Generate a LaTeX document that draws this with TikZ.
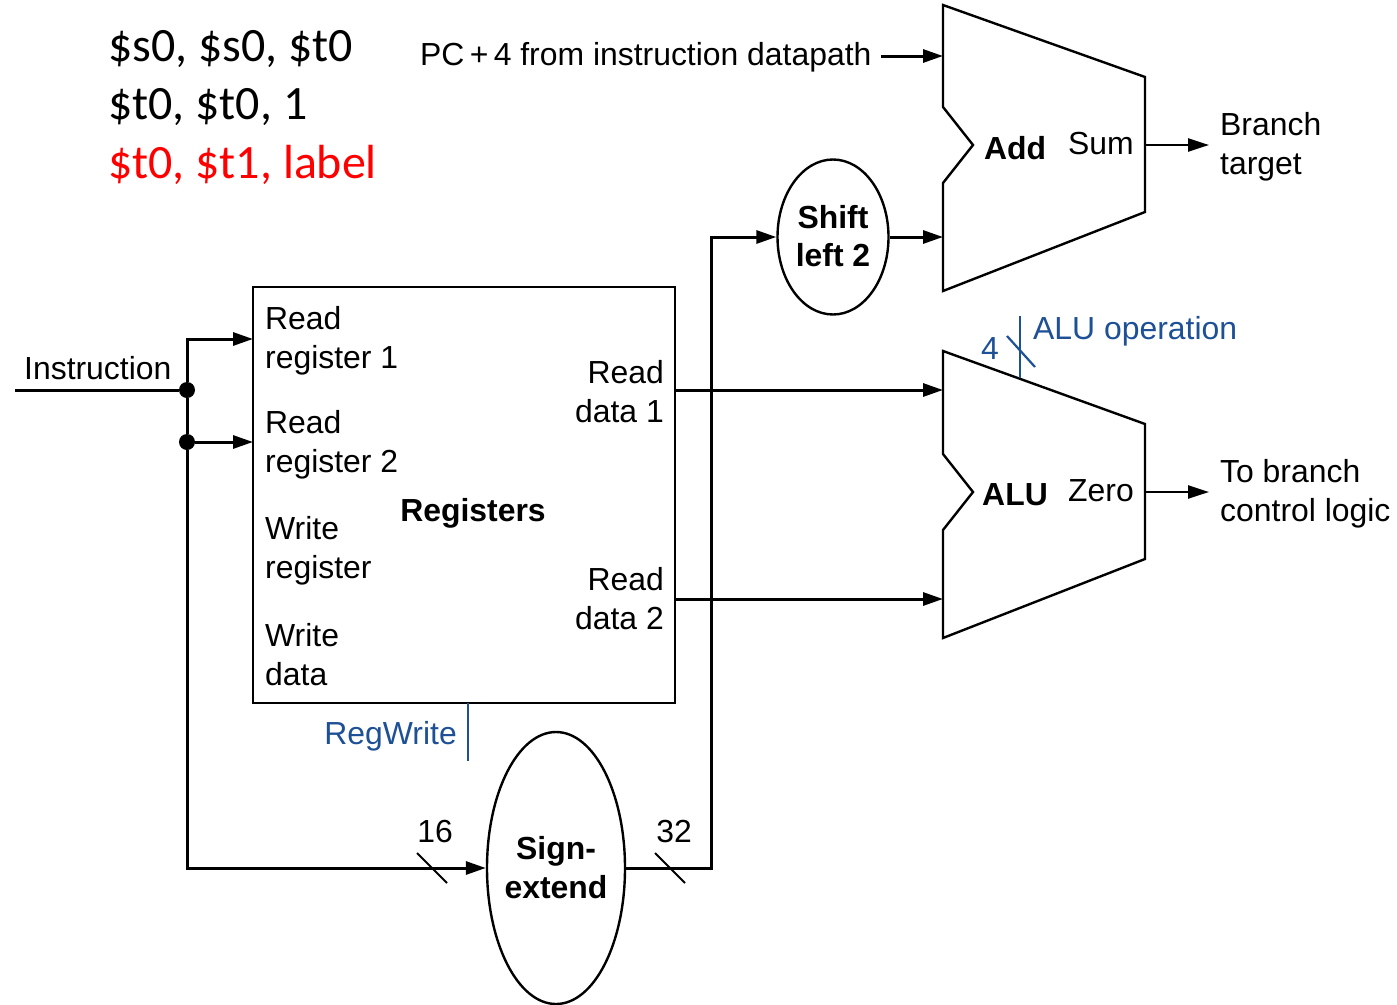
\documentclass[tikz,border=0pt]{standalone}
\usepackage{fontspec}
\setmainfont{Liberation Sans}
\newfontfamily\calib{Carlito}
\usetikzlibrary{arrows.meta,shapes.geometric}
\definecolor{ctl}{RGB}{30,80,150}
\tikzset{
 x=1pt,y=-1pt,
 wire/.style={line width=3pt,-{Triangle[length=20pt,width=13pt]}},
 wirethin/.style={line width=2.4pt,-{Triangle[length=21pt,width=13pt]}},
 plain/.style={line width=3pt},
 box/.style={draw,line width=2.4pt},
 oval/.style={draw,ellipse,line width=2.4pt,inner sep=0pt},
 lab/.style={font=\fontsize{31.9}{39}\selectfont,align=left,inner sep=0pt},
 labr/.style={font=\fontsize{31.9}{39}\selectfont,align=right,inner sep=0pt},
 blab/.style={font=\fontsize{31.9}{39}\selectfont\bfseries,align=center,inner sep=0pt},
 clab/.style={font=\fontsize{31.9}{39}\selectfont,text=ctl,inner sep=0pt},
 code/.style={font=\calib\fontsize{47.9}{58}\selectfont,inner sep=0pt,anchor=west},
 dot/.style={circle,fill,inner sep=0pt,minimum size=16pt},
}
\begin{document}
\begin{tikzpicture}
\useasboundingbox (0,0) rectangle (1397,1004);
% code
\node[code] (c1) at (108,49) {\$s0, \$s0, \$t0};
\node[code] (c2) at (108,107) {\$t0, \$t0, 1};
\node[code,text=red] (c3) at (108,165) {\$t0, \$t1, label};
% registers
\node[box,minimum width=422pt,minimum height=416pt,inner sep=0pt] (reg) at (464,495) {};
\node[blab] (regl) at (473,513) {Registers};
\node[lab,anchor=west] (r1) at (265,341) {Read\\register 1};
\node[lab,anchor=west] (r2) at (265,445) {Read\\register 2};
\node[lab,anchor=west] (w1) at (265,551) {Write\\register};
\node[lab,anchor=west] (w2) at (265,655) {Write\\data};
\node[labr,anchor=east] (d1) at (664,392) {Read\\data 1};
\node[labr,anchor=east] (d2) at (664,599) {Read\\data 2};
% Adder
\draw[box,line join=miter] (943,5) -- (1145,77) -- (1145,212) -- (943,291) -- (943,183) -- (973,145) -- (943,107) -- cycle;
\draw[box,line join=miter] (943,351) -- (1145,424) -- (1145,559) -- (943,638) -- (943,530) -- (973,492) -- (943,454) -- cycle;
\coordinate (addin1) at (943,56);
\coordinate (addin2) at (943,237);
\coordinate (addout) at (1145,145);
\coordinate (aluin1) at (943,390);
\coordinate (aluin2) at (943,599);
\coordinate (aluout) at (1145,492);
\node[blab] (addl) at (1015,148) {Add};
\node[lab] (suml) at (1101,144) {Sum};
\node[blab] (alul) at (1015,495) {ALU};
\node[lab] (zerol) at (1101,491) {Zero};
% ellipses
\node[oval,minimum width=111pt,minimum height=155pt] (shift) at (833,237) {};
\node[blab] (shiftl) at (833,236) {Shift\\[-1pt]left 2};
\node[oval,minimum width=138pt,minimum height=272pt] (sign) at (556,868) {};
\node[blab] (signl) at (556,868) {Sign-\\extend};
% texts
\node[lab,anchor=west] (pc) at (420,57) {PC\,+\,4 from instruction datapath};
\node[lab,anchor=west] (btl) at (1220,147) {Branch\\target};
\node[lab,anchor=west] (tbl) at (1220,494) {To branch\\control logic};
\node[lab,anchor=west] (ins) at (24,368) {Instruction};
\node[clab,anchor=west] (aop) at (1033,331) {ALU operation};
\node[clab] (four) at (990,349) {4};
\node[clab,anchor=east] (rw) at (457,736) {RegWrite};
\node[lab] (n16) at (435,832) {16};
\node[lab] (n32) at (674,832) {32};
% coordinates
\coordinate (insl) at (15,390);
\coordinate (j1) at (187,390);
\coordinate (j2) at (187,442);
\node[dot] (dj1) at (j1) {};
\node[dot] (dj2) at (j2) {};
% wires
\draw[plain] (insl) -- (dj1);
\draw[plain] (dj1) -- (dj2);
\draw[wire] (dj1) |- (253,339);
\draw[wire] (dj2) -- (253,442);
\draw[wire] (dj2) |- (sign.west);
\draw[wire] (881,56) -- (addin1);
\draw[wire] (sign.east) -| (711,237) -- (shift.west);
\draw[wire] (shift.east) -- (addin2);
\draw[wire] (reg.east |- aluin1) -- (aluin1);
\draw[wire] (reg.east |- aluin2) -- (aluin2);
\draw[wirethin] (addout) -- (1209,145);
\draw[wirethin] (aluout) -- (1209,492);
% control
\draw[ctl,line width=2.6pt] (1020,316) -- (1020,378);
\draw[ctl,line width=2.2pt] (1007,336) -- (1035,367);
\draw[ctl,line width=2.6pt] (468,703) -- (468,761);
% slashes
\draw[line width=2pt] (417,853) -- (447,883);
\draw[line width=2pt] (655,853) -- (685,883);
\end{tikzpicture}
\end{document}
